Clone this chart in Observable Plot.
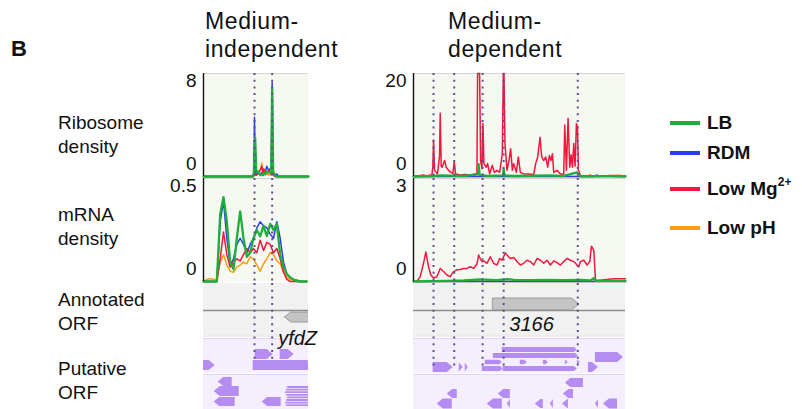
<!DOCTYPE html>
<html><head><meta charset="utf-8">
<script src="https://cdn.jsdelivr.net/npm/d3@7"></script>
<script src="https://cdn.jsdelivr.net/npm/@observablehq/plot@0.6"></script>
<style>
html,body{margin:0;padding:0;background:#fff;}
#fig{position:relative;width:802px;height:409px;overflow:hidden;font-family:"Liberation Sans",Arial,Helvetica,sans-serif;color:#111;}
.abs{position:absolute;white-space:nowrap;}
.row{font-size:19px;line-height:24px;left:58px;}
.title{font-size:23px;line-height:28px;letter-spacing:0.6px;}
.leg{position:absolute;left:670px;height:24px;display:flex;align-items:center;font-weight:bold;font-size:19px;white-space:nowrap;}
.leg .sw{display:inline-block;width:30px;height:4px;margin-right:7px;}
</style></head>
<body><div id="fig">
<div class="abs" style="left:11px;top:38px;font-size:22px;line-height:22px;font-weight:bold;">B</div>
<div class="abs title" style="left:205px;top:7px;">Medium-<br>independent</div>
<div class="abs title" style="left:448px;top:7px;">Medium-<br>dependent</div>
<div class="abs row" style="top:111px;">Ribosome<br>density</div>
<div class="abs row" style="top:203px;">mRNA<br>density</div>
<div class="abs row" style="top:288px;">Annotated<br>ORF</div>
<div class="abs row" style="top:357px;">Putative<br>ORF</div>
</div>
<script>
// ---------- data ----------
const conditions = ["LB", "RDM", "Low Mg", "Low pH"];
const condColors = ["#1fae3b", "#2b3ee8", "#f2173d", "#ff9b14"];
const drawOrder = ["Low pH", "RDM", "Low Mg", "LB"];

// Medium-independent locus (yfdZ)
const leftSpan = [0, 315];
const leftStarts = [153, 206];
const leftRiboTicks = [0, 8];
const leftRiboPos = [0,148,151,153,155,158,165,170,175,178,181,185,190,195,200,203,206,209,214,220,225,315];
const leftRiboLB    = [0,0,0.2,2.2,3.0,0.5,0.3,0.1,0.2,0.1,0.3,0.2,0.4,0.3,0.4,0.3,6.9,0.4,0.1,0,0,0];
const leftRiboRDM   = [0,0,0.3,4.6,0.8,0.1,0.3,0.2,0.3,0.1,0.4,0.3,0.8,0.5,0.6,0.2,7.3,0.3,0.1,0.2,0,0];
const leftRiboMg    = [0,0,0.1,0.3,0.2,0.1,0.3,0.5,0.8,0.3,0.6,0.2,0.3,0.5,0.4,0.2,0.5,0.2,0,0,0,0];
const leftRiboPH    = [0,0,0,0.2,0.1,0.2,0.4,0.5,1.05,0.3,0.4,0.1,0.2,0.1,0.2,0.1,0.3,0.1,0,0,0,0];

const leftMrnaTicks = [0, 0.5];
const leftMrnaPos = [0,10,20,30,40,50,60,70,80,90,100,110,120,130,140,150,160,170,180,190,200,210,220,230,240,250,260,270,280,290,300,310];
const leftMrnaLB  = [0,0,0,0,0,0.325,0.41,0.29,0.094,0.06,0.21,0.34,0.21,0.12,0.14,0.21,0.25,0.22,0.27,0.22,0.28,0.25,0.28,0.13,0.07,0.036,0.02,0.01,0.003,0,0,0];
const leftMrnaRDM = [0,0,0,0,0,0.29,0.39,0.21,0.08,0.11,0.18,0.21,0.18,0.14,0.18,0.21,0.26,0.29,0.27,0.26,0.23,0.21,0.29,0.21,0.094,0.036,0.02,0.01,0,0,0,0];
const leftMrnaMg  = [0,0,0,0,0,0.11,0.24,0.13,0.07,0.094,0.11,0.10,0.13,0.16,0.14,0.16,0.14,0.20,0.15,0.19,0.18,0.14,0.16,0.11,0.045,0.01,0,0,0,0,0,0];
const leftMrnaPH  = [0,0.01,0.015,0.01,0.01,0.094,0.13,0.08,0.05,0.045,0.07,0.08,0.094,0.086,0.12,0.11,0.08,0.05,0.086,0.11,0.14,0.13,0.10,0.086,0.045,0.02,0.01,0.006,0.01,0,0,0];

// Medium-dependent locus (3166)
const rightSpan = [0, 635];
const rightStarts = [60, 122, 207, 270, 492];
const rightRiboTicks = [0, 20];
const rightRiboMg = [[0,0],[10,0.1],[20,0.2],[30,0.3],[40,0.1],[50,0.3],[55,0.2],[58,2.0],[60,7.1],[63,1.2],[72,0.5],[78,4],[80,12.3],[83,2],[86,1.8],[93,3.1],[98,1.8],[105,1.2],[112,0.8],[118,0.6],[122,2.8],[126,0.5],[140,0.3],[155,0.4],[170,0.3],[185,0.5],[190,0.6],[192,20],[198,20],[201,3.1],[205,1.5],[208,10.3],[211,2.5],[218,1.8],[222,2.5],[228,0.5],[236,2.2],[242,0.8],[250,1.2],[258,0.8],[266,4.4],[269,20],[271,20],[274,6.4],[280,1.2],[286,3.1],[291,5.4],[296,1.2],[300,2.5],[308,0.8],[314,3.8],[320,0.8],[330,0.5],[345,0.5],[360,0.4],[366,2.5],[372,3.8],[379,7.6],[384,3.8],[390,3.1],[396,3.8],[402,1.8],[407,4.1],[412,3.1],[416,4.4],[420,0.8],[430,1.2],[440,0.5],[450,0.5],[453,10.0],[458,1.2],[463,11.3],[468,1.8],[472,4.2],[476,1.8],[480,6.4],[484,2],[488,10.3],[491,9.6],[494,1.2],[500,0.2],[520,0.1],[560,0.1],[600,0.1],[635,0]];
const rightRiboLB = [[0,0],[60,0.1],[80,0.2],[150,0.1],[193,0.4],[195,2.4],[198,0.3],[220,0.1],[268,0.2],[270,1.5],[273,0.2],[300,0.1],[360,0.15],[400,0.2],[450,0.1],[490,0.8],[500,0.05],[635,0.05]];
const rightRiboRDM = [[0,0],[540,0],[550,0.3],[555,0],[590,0.2],[600,0],[635,0]];
const rightRiboPH = [[0,0],[520,0],[530,0.4],[535,0],[620,0.3],[625,0],[635,0]];

const rightMrnaTicks = [0, 3];
const rightMrnaMg = [[10,0],[20,0.14],[30,0.53],[37,0.86],[45,0.43],[52,0.19],[60,0.1],[70,0.14],[80,0.38],[90,0.29],[100,0.19],[110,0.14],[120,0.29],[130,0.34],[140,0.35],[150,0.38],[160,0.38],[170,0.43],[180,0.38],[190,0.51],[195,0.77],[200,0.67],[205,0.58],[210,0.6],[220,0.53],[230,0.72],[240,0.53],[250,0.48],[258,0.67],[265,0.62],[275,0.83],[280,0.77],[290,0.67],[300,0.7],[310,0.58],[320,0.48],[330,0.53],[340,0.62],[350,0.58],[360,0.48],[370,0.67],[380,0.62],[390,0.53],[400,0.62],[410,0.48],[420,0.6],[430,0.55],[440,0.48],[450,0.58],[460,0.67],[470,0.62],[480,0.58],[490,0.48],[495,0.43],[500,0.58],[510,0.62],[520,0.48],[528,0.58],[533,1.03],[540,0.91],[545,0.05],[550,0.03],[600,0.08],[635,0.08]];
const rightMrnaLB = [[0,0],[100,0.02],[150,0.03],[200,0.06],[250,0.04],[280,0.07],[300,0.05],[350,0.04],[400,0.05],[450,0.04],[500,0.05],[530,0.03],[540,0.1],[545,0.02],[635,0.02]];
const rightMrnaRDM = [[0,0],[635,0]];
const rightMrnaPH = [[0,0],[185,0],[190,0.04],[200,0],[635,0]];

// ORF features: start, end, lane centre (track rows), lane thickness, strand
const leftAnnotated = [{s:245,e:330,y:34,h:10,str:"-"}];
const leftPutative = [
  {s:155,e:209,y:71,h:10,str:"+"},{s:230,e:272,y:71,h:10,str:"+"},
  {s:149,e:330,y:82,h:10,str:"+"},{s:-20,e:35,y:82,h:10,str:"+"},
  {s:44,e:86,y:98.5,h:9,str:"-"},{s:32,e:107,y:108,h:10,str:"-"},
  {s:32,e:95,y:118.5,h:9,str:"-"},{s:176,e:233,y:118.5,h:9,str:"-"},
  {s:250,e:330,y:104,h:1.8,str:"-"},{s:247,e:330,y:106.6,h:1.8,str:"-"},
  {s:244,e:330,y:109.2,h:1.8,str:"-"},{s:247,e:330,y:111.8,h:1.8,str:"-"},
  {s:250,e:330,y:114.4,h:1.8,str:"-"},{s:247,e:330,y:117,h:1.8,str:"-"},
  {s:244,e:330,y:119.6,h:1.8,str:"-"},{s:247,e:330,y:122.2,h:1.8,str:"-"}
];
const rightAnnotated = [{s:239,e:497,y:21,h:12,str:"+"}];
const rightPutative = [
  {s:266,e:491,y:66.5,h:5,str:"+"},{s:239,e:494,y:72.5,h:5,str:"+"},
  {s:215,e:266,y:79,h:4.5,str:"+"},{s:320,e:341,y:79,h:4.5,str:"+"},
  {s:389,e:404,y:79,h:4.5,str:"+"},{s:455,e:464,y:79,h:4.5,str:"+"},
  {s:491,e:500,y:79,h:4.5,str:"+"},{s:206,e:269,y:85.5,h:5,str:"+"},
  {s:269,e:491,y:85.5,h:5,str:"+"},{s:59,e:119,y:84,h:10,str:"+"},
  {s:137,e:149,y:84,h:9,str:"+"},{s:155,e:164,y:84,h:9,str:"+"},
  {s:524,e:554,y:84,h:10,str:"+"},{s:545,e:629,y:74,h:10,str:"+"},
  {s:455,e:509,y:99.5,h:9,str:"-"},{s:101,e:131,y:110.5,h:9,str:"-"},
  {s:254,e:290,y:110.5,h:9,str:"-"},{s:449,e:479,y:110.5,h:9,str:"-"},
  {s:71,e:116,y:120.5,h:10,str:"-"},{s:221,e:266,y:120.5,h:10,str:"-"},
  {s:281,e:290,y:120.5,h:9,str:"-"},{s:365,e:389,y:120.5,h:9,str:"-"},
  {s:410,e:419,y:120.5,h:9,str:"-"},{s:446,e:464,y:120.5,h:9,str:"-"},
  {s:545,e:554,y:120.5,h:9,str:"-"},{s:569,e:611,y:120.5,h:10,str:"-"}
];
const leftGeneLabel = {text:"yfdZ", x:224, y:61};
const rightGeneLabel = {text:"3166", x:287, y:47};

// ---------- drawing ----------
const fig = document.getElementById("fig");
const FONT = "'Liberation Sans', Arial, Helvetica, sans-serif";
const color = Object.fromEntries(conditions.map((c,i)=>[c, condColors[i]]));
const dotColor = "#5d4f8f";
const zip = (pos, vals) => pos.map((p,i)=>[p, vals[i]]);

function place(svg, left, top){
  svg.style.position = "absolute";
  svg.style.left = left + "px";
  svg.style.top = top + "px";
  svg.style.overflow = "visible";
  svg.style.background = "transparent";
  svg.style.maxWidth = "none";
  fig.appendChild(svg);
}

function densityPanel({fx, fy, span, ticks, series, starts}){
  const mL = 48, mR = 4, mT = 3, mB = 3;
  const W = fx[1]-fx[0], H = fy[1]-fy[0];
  const top = ticks[ticks.length-1];
  const plot = Plot.plot({
    width: mL+W+mR, height: mT+H+mB,
    marginLeft: mL, marginRight: mR, marginTop: mT, marginBottom: mB,
    x: {domain: span, axis: null},
    y: {domain: [ticks[0], top], axis: null},
    style: {fontFamily: FONT, background: "transparent", overflow: "visible"},
    marks: [
      Plot.frame({fill: "#f6f9f1", stroke: null}),
      Plot.ruleY([top], {stroke: "#d4d4d4"}),
      ...drawOrder.filter(k => series[k]).map(k =>
        Plot.line(series[k], {x: d => d[0], y: d => d[1], stroke: color[k], strokeWidth: k === "LB" ? 2.3 : 1.5})),
      Plot.ruleX(starts, {stroke: dotColor, strokeWidth: 2, strokeDasharray: "2,4.7"}),
      Plot.ruleX([span[0]], {stroke: "#111", strokeWidth: 1.4}),
      Plot.text([top], {x: span[0], y: d => d, text: d => String(d), dx: -7, dy: 7, textAnchor: "end", lineAnchor: "middle", fontSize: 19, fill: "#111"}),
      Plot.text([ticks[0]], {x: span[0], y: d => d, text: d => String(d), dx: -7, dy: -13, textAnchor: "end", lineAnchor: "middle", fontSize: 19, fill: "#111"})
    ]
  });
  place(plot, fx[0]-mL, fy[0]-mT);
}

function arrowPolys(feats, unitsPerPx, tag){
  const out = [];
  feats.forEach((f, i) => {
    const id = tag + i;
    let head = Math.max(f.h * 0.6, 1.5) * unitsPerPx;
    head = Math.min(head, f.e - f.s);
    const lo = f.y - f.h/2, hi = f.y + f.h/2;
    if (f.str === "+") {
      out.push({id, x: f.s, lo, hi}, {id, x: f.e - head, lo, hi}, {id, x: f.e, lo: f.y, hi: f.y});
    } else {
      out.push({id, x: f.s, lo: f.y, hi: f.y}, {id, x: f.s + head, lo, hi}, {id, x: f.e, lo, hi});
    }
  });
  return out;
}

function trackPanel({fx, fy, span, annot, put, starts, dotEnd, label}){
  const W = fx[1]-fx[0], H = fy[1]-fy[0];
  const upp = (span[1]-span[0]) / W;
  const plot = Plot.plot({
    width: W, height: H, margin: 0,
    x: {domain: span, axis: null},
    y: {domain: [0, H], range: [0, H], axis: null},
    style: {fontFamily: FONT, background: "transparent", overflow: "visible"},
    marks: [
      Plot.rect([0], {y1: 0, y2: 52, fill: "#f1f1f1"}),
      Plot.ruleY([27], {stroke: "#8e8e8e", strokeWidth: 1.3}),
      Plot.ruleY([52.5], {stroke: "#d8d8d8"}),
      Plot.rect([0], {y1: 55, y2: 90, fill: "#f5eefd"}),
      Plot.ruleY([55], {stroke: "#e2d4f3"}),
      Plot.ruleY([91], {stroke: "#e2d4f3"}),
      Plot.rect([0], {y1: 92, y2: H, fill: "#f5eefd"}),
      Plot.areaY(arrowPolys(annot, upp, "a"), {x: "x", y1: "lo", y2: "hi", z: "id", fill: "#c4c4c4", stroke: "#8a8a8a", strokeWidth: 0.8, clip: true}),
      Plot.areaY(arrowPolys(put, upp, "p"), {x: "x", y1: "lo", y2: "hi", z: "id", fill: "#b48cf2", clip: true}),
      Plot.ruleX(starts, {y1: 0, y2: dotEnd, stroke: dotColor, strokeWidth: 2, strokeDasharray: "2,4.7"}),
      Plot.text([label], {x: d => d.x, y: d => d.y, text: d => d.text, fontStyle: "italic", fontSize: 20, textAnchor: "start", lineAnchor: "bottom", fill: "#111"})
    ]
  });
  place(plot, fx[0], fy[0]);
}

const LX = [203, 308], RX = [413, 625];
const riboY = [73, 176], mrnaY = [178, 281], trackY = [283, 409];

densityPanel({fx: LX, fy: riboY, span: leftSpan, ticks: leftRiboTicks, starts: leftStarts,
  series: {"LB": zip(leftRiboPos, leftRiboLB), "RDM": zip(leftRiboPos, leftRiboRDM), "Low Mg": zip(leftRiboPos, leftRiboMg), "Low pH": zip(leftRiboPos, leftRiboPH)}});
densityPanel({fx: LX, fy: mrnaY, span: leftSpan, ticks: leftMrnaTicks, starts: leftStarts,
  series: {"LB": zip(leftMrnaPos, leftMrnaLB), "RDM": zip(leftMrnaPos, leftMrnaRDM), "Low Mg": zip(leftMrnaPos, leftMrnaMg), "Low pH": zip(leftMrnaPos, leftMrnaPH)}});
densityPanel({fx: RX, fy: riboY, span: rightSpan, ticks: rightRiboTicks, starts: rightStarts,
  series: {"LB": rightRiboLB, "RDM": rightRiboRDM, "Low Mg": rightRiboMg, "Low pH": rightRiboPH}});
densityPanel({fx: RX, fy: mrnaY, span: rightSpan, ticks: rightMrnaTicks, starts: rightStarts,
  series: {"LB": rightMrnaLB, "RDM": rightMrnaRDM, "Low Mg": rightMrnaMg, "Low pH": rightMrnaPH}});

trackPanel({fx: LX, fy: trackY, span: leftSpan, annot: leftAnnotated, put: leftPutative, starts: leftStarts, dotEnd: 77, label: leftGeneLabel});
trackPanel({fx: RX, fy: trackY, span: rightSpan, annot: rightAnnotated, put: rightPutative, starts: rightStarts, dotEnd: 84, label: rightGeneLabel});

// legend
const legendY = [123, 153, 189, 228];
conditions.forEach((c, i) => {
  const row = document.createElement("div");
  row.className = "leg";
  row.style.top = (legendY[i] - 12) + "px";
  const sw = document.createElement("span");
  sw.className = "sw";
  sw.style.background = color[c];
  row.appendChild(sw);
  const t = document.createElement("span");
  t.textContent = c;
  row.appendChild(t);
  if (c === "Low Mg") {
    const sup = document.createElement("span");
    sup.textContent = "2+";
    sup.style.fontSize = "12px";
    sup.style.position = "relative";
    sup.style.top = "-7px";
    row.appendChild(sup);
  }
  fig.appendChild(row);
});
</script>
</body></html>
